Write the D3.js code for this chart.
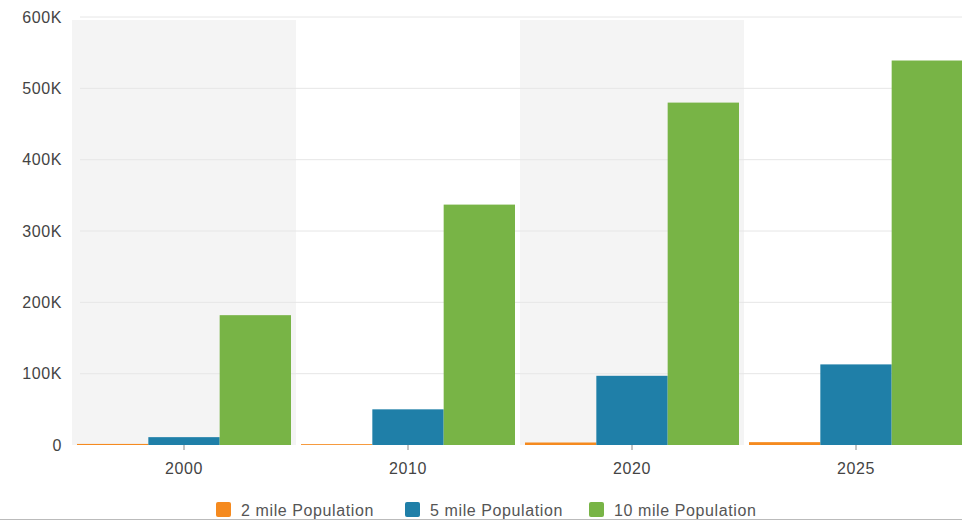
<!DOCTYPE html>
<html>
<head>
<meta charset="utf-8">
<script src="https://cdn.jsdelivr.net/npm/d3@7"></script>
<style>
  body { margin: 0; background: #fff; }
  text { font-family: "Liberation Sans", Arial, sans-serif; letter-spacing: 0.6px; }
</style>
</head>
<body>
<script>
var years = ['2000', '2010', '2020', '2025'];
var seriesNames = ['2 mile Population', '5 mile Population', '10 mile Population'];
var pop2 = [1500, 1200, 3500, 4000];
var pop5 = [11000, 50000, 97000, 113000];
var pop10 = [182000, 337000, 480000, 539000];
var yTicks = [0, 100000, 200000, 300000, 400000, 500000, 600000];
var colors = ['#f58a1f', '#1f7fa8', '#78b446'];

var W = 962, H = 522;
var margin = {top: 17, right: -6, bottom: 77, left: 72};
var height = H - margin.top - margin.bottom;

var rows = years.map(function(y, i) {
  return {year: y, values: [pop2[i], pop5[i], pop10[i]]};
});

var svg = d3.select('body').append('svg')
    .attr('width', W)
    .attr('height', H);

var xScale = d3.scaleBand().domain(years).range([margin.left, W - margin.right]).padding(0);
var xSub = d3.scaleBand().domain(d3.range(3)).range([5, xScale.bandwidth() - 5]).padding(0);
var yScale = d3.scaleLinear().domain([0, 600000]).range([margin.top + height, margin.top]);

// alternating band shading
svg.selectAll('.band')
    .data(years.filter(function(d, i) { return i % 2 == 0; }))
  .enter().append('rect')
    .attr('class', 'band')
    .attr('x', function(d) { return xScale(d); })
    .attr('y', yScale(600000) + 3)
    .attr('width', xScale.bandwidth())
    .attr('height', yScale(0) - yScale(600000) - 3)
    .style('fill', '#f4f4f4');

// gridlines
svg.append('g')
    .selectAll('line')
    .data(yTicks.slice(1))
  .enter().append('line')
    .attr('x1', 80)
    .attr('x2', W)
    .attr('y1', function(d) { return yScale(d); })
    .attr('y2', function(d) { return yScale(d); })
    .style('stroke', '#e6e6e6')
    .style('stroke-width', 1);

// y axis labels
var yAxis = d3.axisLeft(yScale)
    .tickValues(yTicks)
    .tickSize(0)
    .tickPadding(0)
    .tickFormat(function(d) { return d == 0 ? '0' : d3.format('d')(d / 1000) + 'K'; });

var gy = svg.append('g')
    .attr('transform', 'translate(62,0)')
    .call(yAxis);
gy.select('.domain').remove();
gy.selectAll('text')
    .style('font-size', '16px')
    .style('fill', '#444');

// bars
var groups = svg.selectAll('.group')
    .data(rows)
  .enter().append('g')
    .attr('class', 'group')
    .attr('transform', function(d) { return 'translate(' + xScale(d.year) + ',0)'; });

groups.selectAll('rect')
    .data(function(d) { return d.values; })
  .enter().append('rect')
    .attr('x', function(d, i) { return xSub(i); })
    .attr('y', function(d) { return yScale(d); })
    .attr('width', xSub.bandwidth())
    .attr('height', function(d) { return yScale(0) - yScale(d); })
    .style('fill', function(d, i) { return colors[i]; });

// x axis
var xAxis = d3.axisBottom(xScale).tickSize(5).tickPadding(13);
var gx = svg.append('g')
    .attr('transform', 'translate(0,' + yScale(0) + ')')
    .call(xAxis);
gx.select('.domain').remove();
gx.selectAll('.tick line').style('stroke', '#888');
gx.selectAll('text')
    .style('font-size', '16px')
    .style('fill', '#444');

// legend
var legendX = [216, 405, 589];
var legend = svg.selectAll('.legend')
    .data(seriesNames)
  .enter().append('g')
    .attr('class', 'legend')
    .attr('transform', function(d, i) { return 'translate(' + legendX[i] + ',502)'; });

legend.append('rect')
    .attr('width', 15)
    .attr('height', 15)
    .attr('rx', 2)
    .style('fill', function(d, i) { return colors[i]; });

legend.append('text')
    .attr('x', 25)
    .attr('y', 8)
    .attr('dy', '.35em')
    .style('font-size', '16px')
    .style('fill', '#555')
    .text(function(d) { return d; });

// bottom border
svg.append('line')
    .attr('x1', 0).attr('x2', W)
    .attr('y1', H - 2.5).attr('y2', H - 2.5)
    .style('stroke', '#bbb');
</script>
</body>
</html>
